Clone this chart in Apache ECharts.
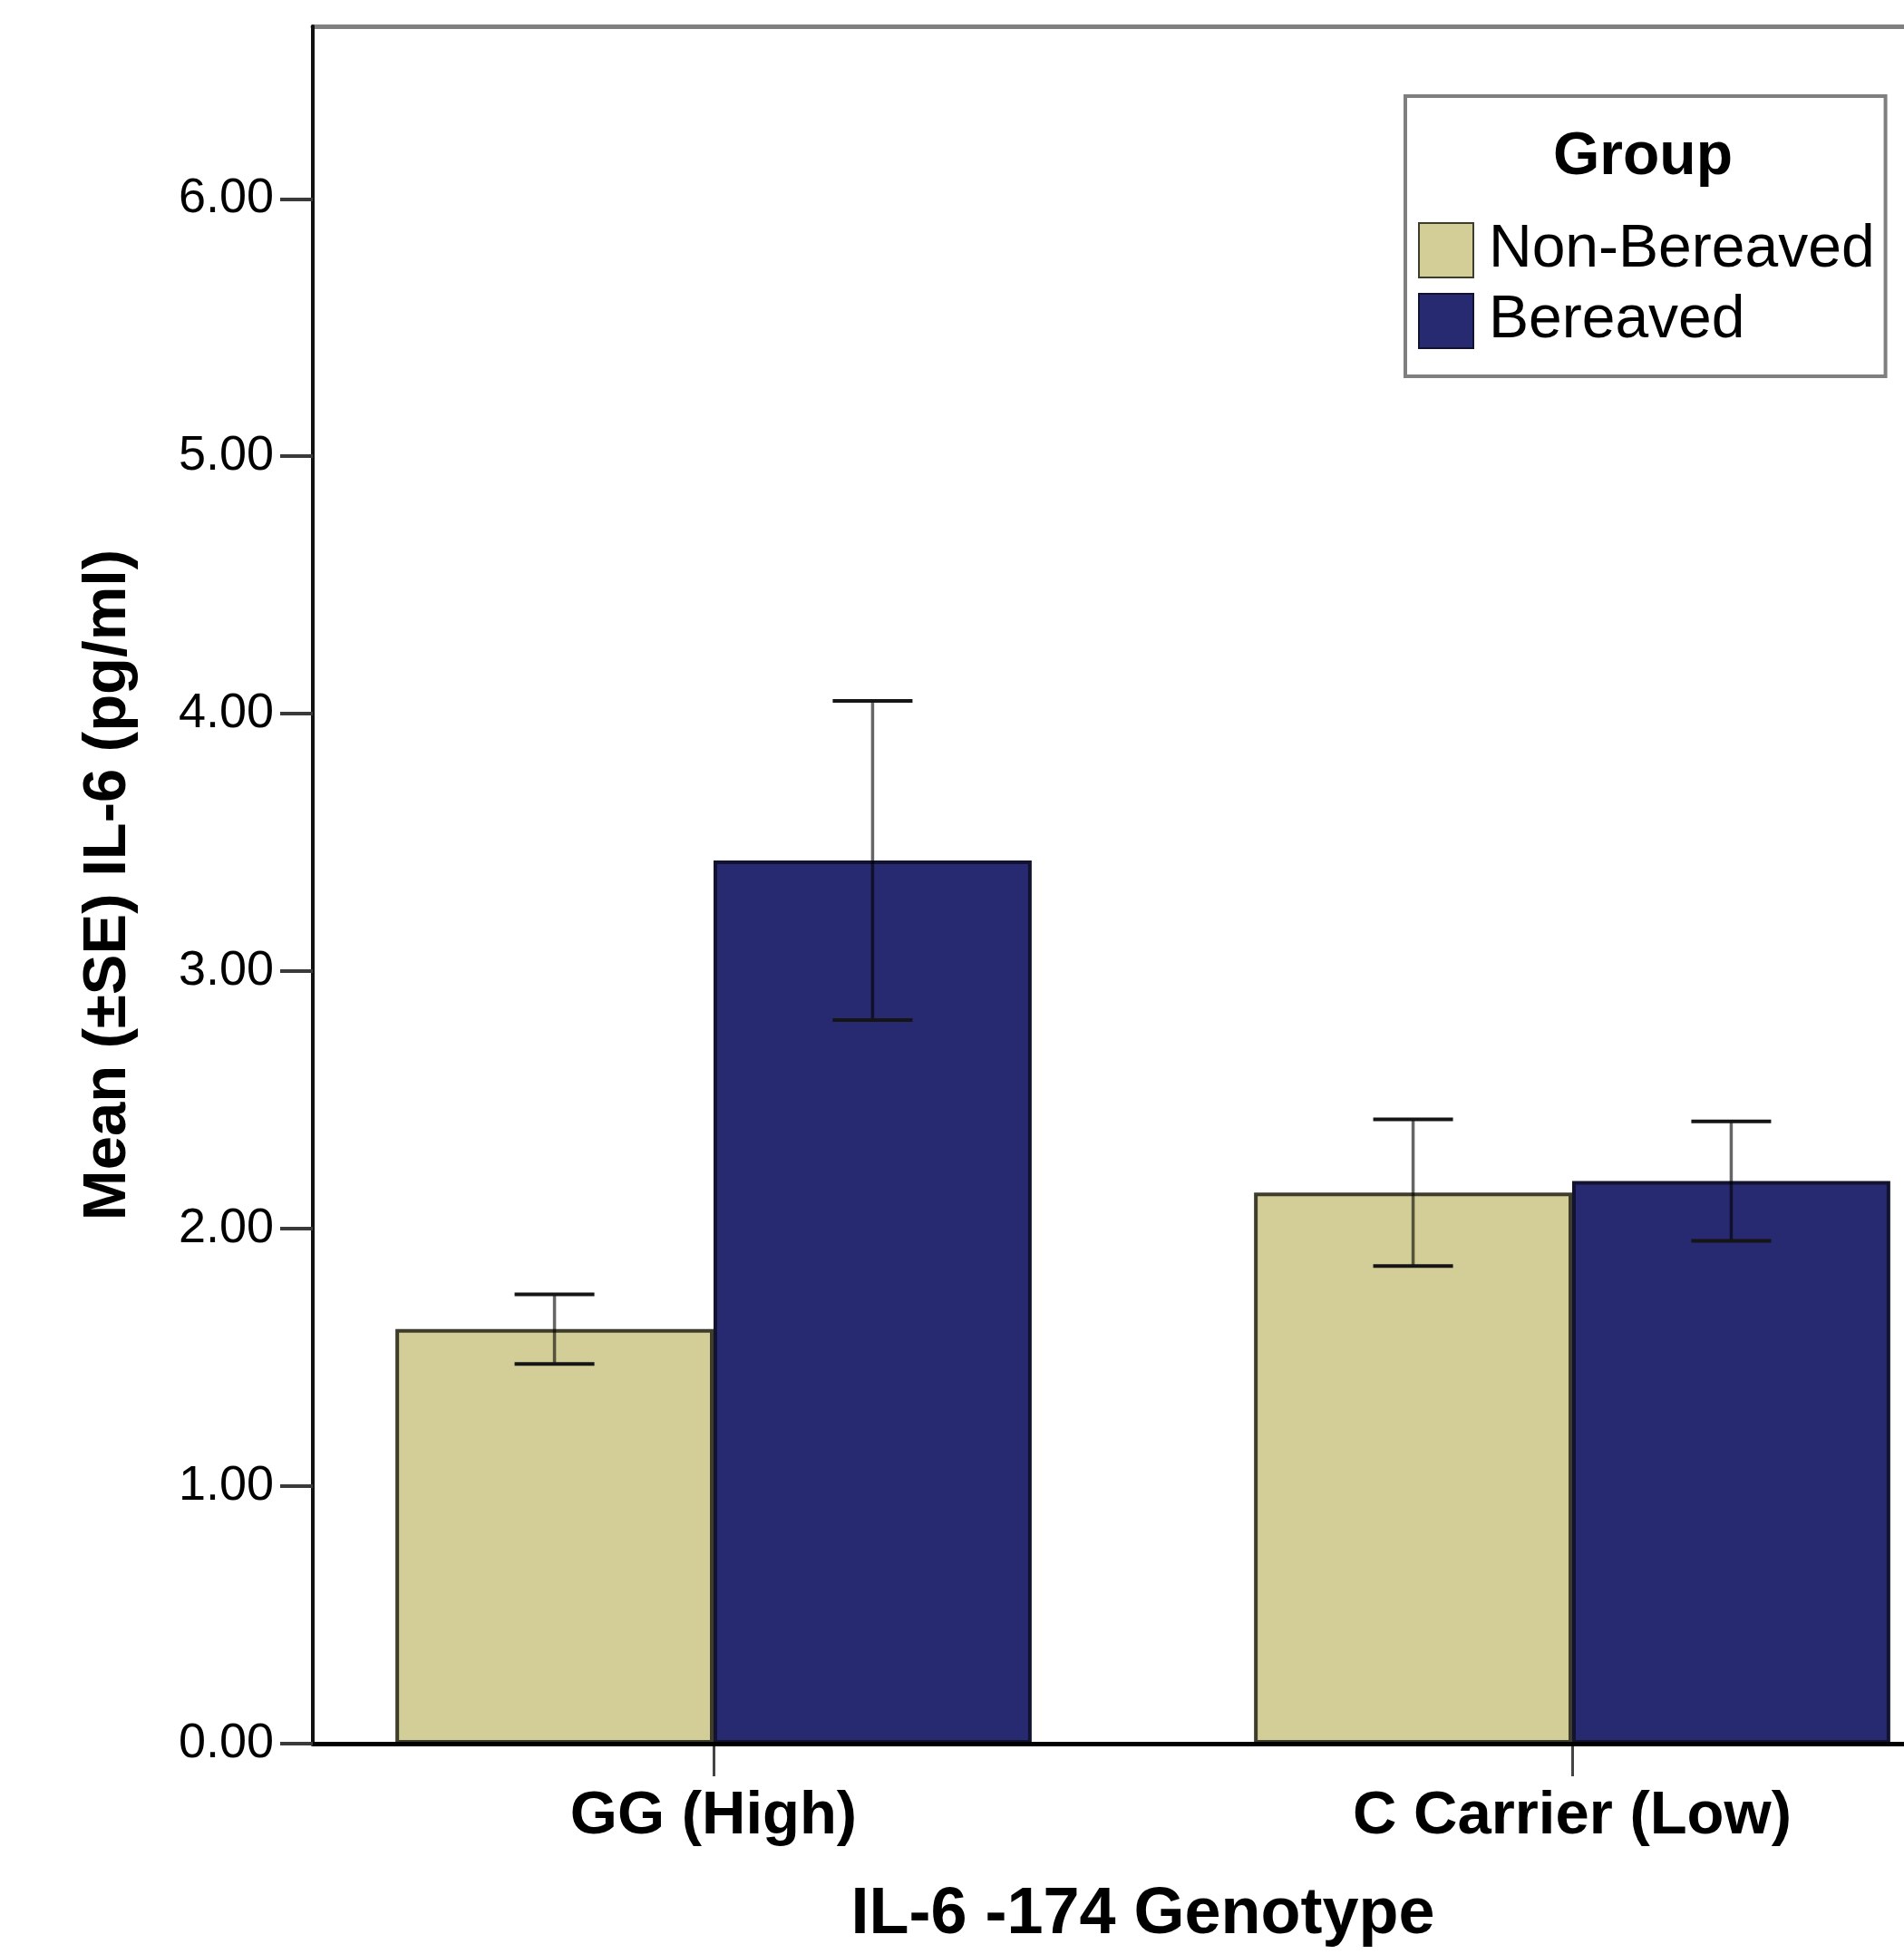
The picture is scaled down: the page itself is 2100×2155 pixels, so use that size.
<!DOCTYPE html>
<html>
<head>
<meta charset="utf-8">
<script src="https://cdn.jsdelivr.net/npm/echarts@6/dist/echarts.min.js"></script>
<style>
html, body { margin: 0; padding: 0; background: #fff; }
#chart { width: 2100px; height: 2155px; }
</style>
</head>
<body>
<div id="chart"></div>
<script>
// data
var genotypes = ['GG (High)', 'C Carrier (Low)'];
var groups = ['Non-Bereaved', 'Bereaved'];
var nonBereavedMean = [1.61, 2.14];
var nonBereavedSE = [0.135, 0.285];
var bereavedMean = [3.43, 2.185];
var bereavedSE = [0.62, 0.232];
var yTicks = [0, 1, 2, 3, 4, 5, 6];
var yMax = 6.67;

var font = '"Liberation Sans", Arial, sans-serif';
var catGap = 0.259;

// error bars drawn on the bar grid's own scales
function errorSeries(name, mean, se, side) {
    return {
        name: name + ' SE',
        type: 'custom',
        xAxisIndex: 1,
        yAxisIndex: 1,
        z: 5,
        renderItem: function (params, api) {
            var i = api.value(0);
            var band = api.size([1, 0])[0];
            var barW = band * (1 - catGap) / 2;
            var x = api.coord([i, api.value(1)])[0] + side * barW / 2;
            var hi = api.coord([i, api.value(2)])[1];
            var lo = api.coord([i, api.value(3)])[1];
            var cap = 44;
            return {
                type: 'group',
                children: [{
                    type: 'line',
                    shape: { x1: x, y1: hi, x2: x, y2: lo },
                    style: { stroke: 'rgba(0,0,0,0.6)', lineWidth: 3.5 }
                }, {
                    type: 'line',
                    shape: { x1: x - cap, y1: hi, x2: x + cap, y2: hi },
                    style: { stroke: '#151515', lineWidth: 4 }
                }, {
                    type: 'line',
                    shape: { x1: x - cap, y1: lo, x2: x + cap, y2: lo },
                    style: { stroke: '#151515', lineWidth: 4 }
                }]
            };
        },
        data: mean.map(function (m, i) { return [i, m, m + se[i], m - se[i]]; })
    };
}

var chart = echarts.init(document.getElementById('chart'));
var option = {
    animation: false,
    backgroundColor: '#fff',
    title: {
        text: 'Group',
        left: 1708,
        top: 136,
        textStyle: { fontFamily: font, fontSize: 66, fontWeight: 'bold', color: '#000' }
    },
    legend: {
        data: groups,
        orient: 'vertical',
        left: 1550,
        top: 106,
        padding: [137, 12, 28, 14],
        itemWidth: 60,
        itemHeight: 60,
        itemGap: 12,
        icon: 'rect',
        borderColor: '#7f7f7f',
        borderWidth: 4,
        textStyle: { fontFamily: font, fontSize: 66, color: '#000', lineHeight: 60, padding: [0, 0, 0, 12] }
    },
    grid: [{
        left: 345, right: 0, top: 29, bottom: 232, outerBoundsMode: 'none'
    }, {
        left: 313.5, right: -107.5, top: 29, bottom: 232, outerBoundsMode: 'none'
    }],
    xAxis: [{
        // bottom axis line of the frame
        type: 'value', gridIndex: 0, min: 0, max: 1, z: 6,
        axisLine: { lineStyle: { color: '#000', width: 5 } },
        axisTick: { show: false }, axisLabel: { show: false }, splitLine: { show: false }
    }, {
        type: 'category', gridIndex: 1, data: genotypes,
        axisLine: { show: false },
        axisTick: { show: true, alignWithLabel: true, length: 36, lineStyle: { color: '#444', width: 3 } },
        axisLabel: { margin: 47, fontFamily: font, fontSize: 67, fontWeight: 'bold', color: '#000' },
        name: 'IL-6 -174 Genotype',
        nameLocation: 'middle',
        nameGap: 153,
        nameTextStyle: { fontFamily: font, fontSize: 72, fontWeight: 'bold', color: '#000' }
    }, {
        // top frame line
        type: 'value', gridIndex: 0, position: 'top', min: 0, max: 1,
        axisLine: { lineStyle: { color: '#808080', width: 5 } },
        axisTick: { show: false }, axisLabel: { show: false }, splitLine: { show: false }
    }],
    yAxis: [{
        type: 'value', gridIndex: 0, min: 0, max: yMax, z: 6,
        axisLine: { show: true, lineStyle: { color: '#111', width: 4 } },
        axisTick: { show: true, length: 36, customValues: yTicks, lineStyle: { color: '#3a3a3a', width: 4 } },
        axisLabel: {
            margin: 43, customValues: yTicks,
            fontFamily: font, fontSize: 54, color: '#000',
            formatter: function (v) { return v.toFixed(2); }
        },
        splitLine: { show: false },
        name: 'Mean (\u00b1SE) IL-6 (pg/ml)',
        nameLocation: 'middle',
        nameGap: 192,
        nameTextStyle: { fontFamily: font, fontSize: 67, fontWeight: 'bold', color: '#000' }
    }, {
        type: 'value', gridIndex: 1, min: 0, max: yMax, show: false
    }],
    series: [{
        name: groups[0],
        type: 'bar',
        xAxisIndex: 1,
        yAxisIndex: 1,
        barGap: 0,
        barCategoryGap: (catGap * 100) + '%',
        itemStyle: { color: '#d3cd97', borderColor: '#3e3d2c', borderWidth: 4 },
        data: nonBereavedMean
    }, {
        name: groups[1],
        type: 'bar',
        xAxisIndex: 1,
        yAxisIndex: 1,
        barGap: 0,
        barCategoryGap: (catGap * 100) + '%',
        itemStyle: { color: '#282a71', borderColor: '#121330', borderWidth: 4 },
        data: bereavedMean
    },
    errorSeries(groups[0], nonBereavedMean, nonBereavedSE, -1),
    errorSeries(groups[1], bereavedMean, bereavedSE, 1)]
};
chart.setOption(option);
</script>
</body>
</html>
